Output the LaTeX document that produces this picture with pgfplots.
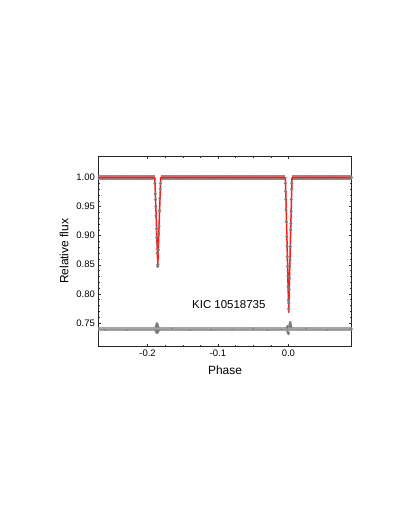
\documentclass[border=0pt]{standalone}
\usepackage{fontspec}
\setmainfont{Liberation Sans}
\usepackage{pgfplots}
\pgfplotsset{compat=1.18}
\definecolor{dgray}{HTML}{7A7A7A}
\definecolor{lgray}{HTML}{A6A6A6}
\definecolor{mred}{HTML}{FF1A1A}
\begin{document}
\begin{tikzpicture}
\path[use as bounding box] (0,0) rectangle (409bp,529bp);
\begin{axis}[
  at={(98.3bp,182.3bp)}, anchor=south west, scale only axis,
  width=253.4bp, height=190.7bp,
  xmin=-0.27, xmax=0.09, ymin=0.709, ymax=1.037,
  xtick={-0.2,-0.1,0}, minor x tick num=3,
  ytick={0.75,0.80,0.85,0.90,0.95,1.00}, minor y tick num=4,
  tick align=inside, major tick length=3bp, minor tick length=1.6bp,
  every tick/.style={black!80, line width=0.4pt},
  axis line style={black!85, line width=0.6pt},
  /pgf/number format/assume math mode=true,
  xticklabel style={font=\fontsize{9.5}{11}\selectfont, /pgf/number format/.cd, fixed, fixed zerofill, precision=1},
  yticklabel style={font=\fontsize{9.5}{11}\selectfont, /pgf/number format/.cd, fixed, fixed zerofill, precision=2},
  xlabel={Phase}, ylabel={Relative flux},
  xlabel style={font=\fontsize{12}{14}\selectfont, at={(axis description cs:0.5,-0.124)}, anchor=center},
  ylabel style={font=\fontsize{12}{14}\selectfont, at={(axis description cs:-0.135,0.5)}, anchor=center},
  clip=true,
]
% residual band
\addplot[lgray, line width=4.6bp] coordinates {(-0.27,0.7392) (0.09,0.7392)};
\addplot[dgray!80, line width=1bp] coordinates {(-0.27,0.7390) (0.09,0.7390)};
% residual scatter
\addplot[only marks, mark=*, mark size=1.4bp, dgray, draw opacity=0] coordinates {
(-0.1885,0.7365) (-0.1880,0.7440) (-0.1875,0.7460) (-0.1870,0.7480) (-0.1866,0.7490) (-0.1862,0.7470)
(-0.1858,0.7450) (-0.1850,0.7435) (-0.1878,0.7345) (-0.1870,0.7335) (-0.1862,0.7330) (-0.1855,0.7345) (-0.1845,0.7360)
(-0.0020,0.7420) (-0.0012,0.7440) (-0.0010,0.7350) (-0.0005,0.7330) (0.0000,0.7310) (0.0005,0.7325)
(0.0012,0.7440) (0.0017,0.7470) (0.0022,0.7495) (0.0026,0.7510) (0.0031,0.7485) (0.0036,0.7455) (0.0040,0.7430)
};
\addplot[only marks, mark=*, mark size=0.8bp, dgray, draw opacity=0] coordinates {
(-0.2605,0.7378) (-0.2300,0.7377) (-0.1650,0.7403) (-0.1400,0.7377) (-0.1100,0.7378) (-0.0800,0.7377)
(-0.0500,0.7404) (-0.0300,0.7377) (0.0250,0.7404) (0.0550,0.7378)
};
\addplot[only marks, mark=*, mark size=1.7bp, dgray, draw opacity=0] coordinates {(0.0895,0.7392)};
% out-of-eclipse data band
\addplot[dgray!85, line width=4.2bp] coordinates {(-0.27,1.0) (-0.1897,1.0)};
\addplot[dgray!85, line width=4.2bp] coordinates {(-0.1813,1.0) (-0.0042,1.0)};
\addplot[dgray!85, line width=4.2bp] coordinates {(0.0052,1.0) (0.09,1.0)};
\addplot[only marks, mark=*, mark size=0.8bp, dgray, draw opacity=0] coordinates {
(-0.2600,1.0023) (-0.2450,0.9978) (-0.2300,1.0022) (-0.2150,0.9978) (-0.2000,1.0022)
(-0.1700,1.0023) (-0.1500,0.9978) (-0.1300,1.0022) (-0.1100,0.9979) (-0.0900,1.0023)
(-0.0700,0.9978) (-0.0500,1.0022) (-0.0300,0.9979) (-0.0150,1.0022) (0.0150,0.9978)
(0.0300,1.0022) (0.0450,0.9979) (0.0600,1.0023) (0.0750,0.9978)
};
\addplot[only marks, mark=*, mark size=1.8bp, dgray, draw opacity=0] coordinates {(0.0895,1.0)};
% model
\addplot[mred, line width=1.5bp, line join=round] coordinates {
(-0.27,1.0) (-0.1897,1.0) (-0.1877,0.9300) (-0.1855,0.8470) (-0.1833,0.9300) (-0.1813,1.0)
(-0.0042,1.0) (-0.0019,0.8900) (0.0005,0.7680) (0.0029,0.8900) (0.0052,1.0) (0.09,1.0)
};
% eclipse data points
\addplot[only marks, mark=*, mark size=1.7bp, dgray, draw opacity=0] coordinates {
(-0.1896,0.990) (-0.1890,0.972) (-0.1887,0.962) (-0.1884,0.950) (-0.1880,0.934) (-0.1874,0.912)
(-0.1869,0.897) (-0.1866,0.886) (-0.1862,0.870) (-0.1856,0.847)
(-0.1815,0.990) (-0.1818,0.980) (-0.1824,0.964) (-0.1830,0.943) (-0.1837,0.917)
(-0.1841,0.904) (-0.1848,0.876) (-0.1854,0.850)
(-0.0042,0.990) (-0.0039,0.976) (-0.0036,0.962) (-0.0032,0.944) (-0.0028,0.924) (-0.0022,0.898)
(-0.0019,0.882) (-0.0015,0.864) (-0.0011,0.847) (-0.0007,0.830) (-0.0004,0.812) (0.0001,0.789) (0.0004,0.774)
(0.0050,0.990) (0.0048,0.980) (0.0042,0.962) (0.0040,0.942) (0.0036,0.921) (0.0034,0.910) (0.0028,0.881)
(0.0024,0.858) (0.0019,0.847) (0.0017,0.827) (0.0013,0.807) (0.0008,0.784)
};
\node[font=\fontsize{11.5}{13}\selectfont, anchor=center] at (axis cs:-0.0846,0.781) {KIC 10518735};
\end{axis}
\end{tikzpicture}
\end{document}
